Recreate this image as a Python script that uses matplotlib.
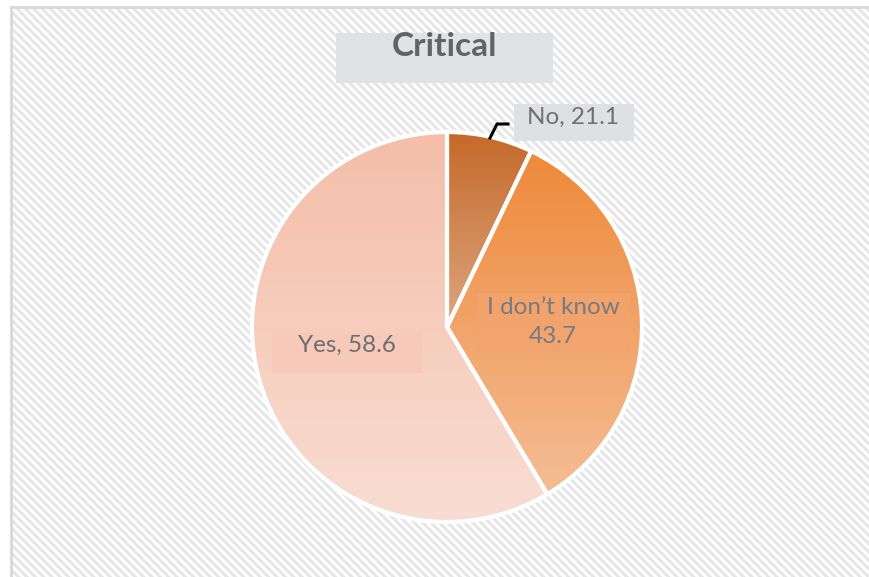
import matplotlib
matplotlib.use('Agg')
import matplotlib.pyplot as plt
import numpy as np
from matplotlib.patches import Rectangle
from matplotlib.colors import LinearSegmentedColormap

plt.rcParams['font.family'] = ['Lato', 'DejaVu Sans']
plt.rcParams['hatch.linewidth'] = 2.2

# slice shares as drawn, and the numbers printed in the labels
categories = ['No', 'I don\u2019t know', 'Yes']
shares = [7.1, 34.3, 58.6]
label_values = [21.1, 43.7, 58.6]
title = 'Critical'

# gradient top / bottom colours per slice
grad_top = ['#c5692a', '#ee893a', '#f4bea8']
grad_bottom = ['#dda680', '#f5bd95', '#f9ddd2']

W, H = 870, 577
fig = plt.figure(figsize=(W / 100, H / 100), dpi=100)

# background: hatched panel with grey left/top border
bg = fig.add_axes([0, 0, 1, 1])
bg.set_xlim(0, W)
bg.set_ylim(H, 0)
bg.axis('off')
bg.add_patch(Rectangle((11, 7), W, H, facecolor='white', edgecolor='#e6e6e6',
                       linewidth=0, hatch='\\\\\\\\'))
bg.plot([11, 11], [7, H], color='#d8d8d8', lw=2)
bg.plot([11, W], [7, 7], color='#d8d8d8', lw=2)

# pie
cx, cy, r = 447, 327, 195
ax = fig.add_axes([(cx - r) / W, (H - cy - r) / H, 2 * r / W, 2 * r / H], zorder=2)
wedges, _ = ax.pie(shares, startangle=90, counterclock=False, radius=1,
                   wedgeprops=dict(edgecolor='white', linewidth=3))
ax.axis('off')

grad = np.linspace(0, 1, 256).reshape(-1, 1)
for w, c0, c1 in zip(wedges, grad_top, grad_bottom):
    w.set_facecolor('none')
    ext = w.get_path().get_extents()
    cmap = LinearSegmentedColormap.from_list('g', [c0, c1])
    im = ax.imshow(grad, cmap=cmap, aspect='auto', origin='upper',
                   extent=[ext.x0, ext.x1, ext.y0, ext.y1], zorder=0)
    im.set_clip_path(w)
    w.set_zorder(1)
ax.set_xlim(-1.0, 1.0)
ax.set_ylim(-1.0, 1.0)

# overlay: title and data labels
ov = fig.add_axes([0, 0, 1, 1], zorder=3)
ov.set_xlim(0, W)
ov.set_ylim(H, 0)
ov.axis('off')
ov.patch.set_alpha(0)

ov.add_patch(Rectangle((336, 33), 217, 50, facecolor='#e1e2e6', edgecolor='none'))
ov.text(444.5, 47, title, ha='center', va='center', fontsize=24,
        fontweight='bold', color='#636366')

# No
ov.add_patch(Rectangle((514, 104), 120, 37, facecolor='#dfe0e3', edgecolor='none'))
ov.text(573, 117, f'{categories[0]}, {label_values[0]}', ha='center', va='center',
        fontsize=17.5, color='#707070')
ov.plot([490, 497, 508], [138, 124, 124], color='black', lw=2.2)

# I don't know
ov.add_patch(Rectangle((477, 293), 153, 59, facecolor='#f3a46e', edgecolor='none', alpha=0.85))
ov.text(553, 322, f'{categories[1]}\n{label_values[1]}', ha='center', va='center',
        fontsize=17.5, color='#767a82', linespacing=1.5)

# Yes
ov.add_patch(Rectangle((272, 333), 150, 40, facecolor='#f7c9bb', edgecolor='none', alpha=0.9))
ov.text(347, 345, f'{categories[2]}, {label_values[2]}', ha='center', va='center',
        fontsize=17.5, color='#6e6e6e')

fig.savefig('out.png', dpi=100)
